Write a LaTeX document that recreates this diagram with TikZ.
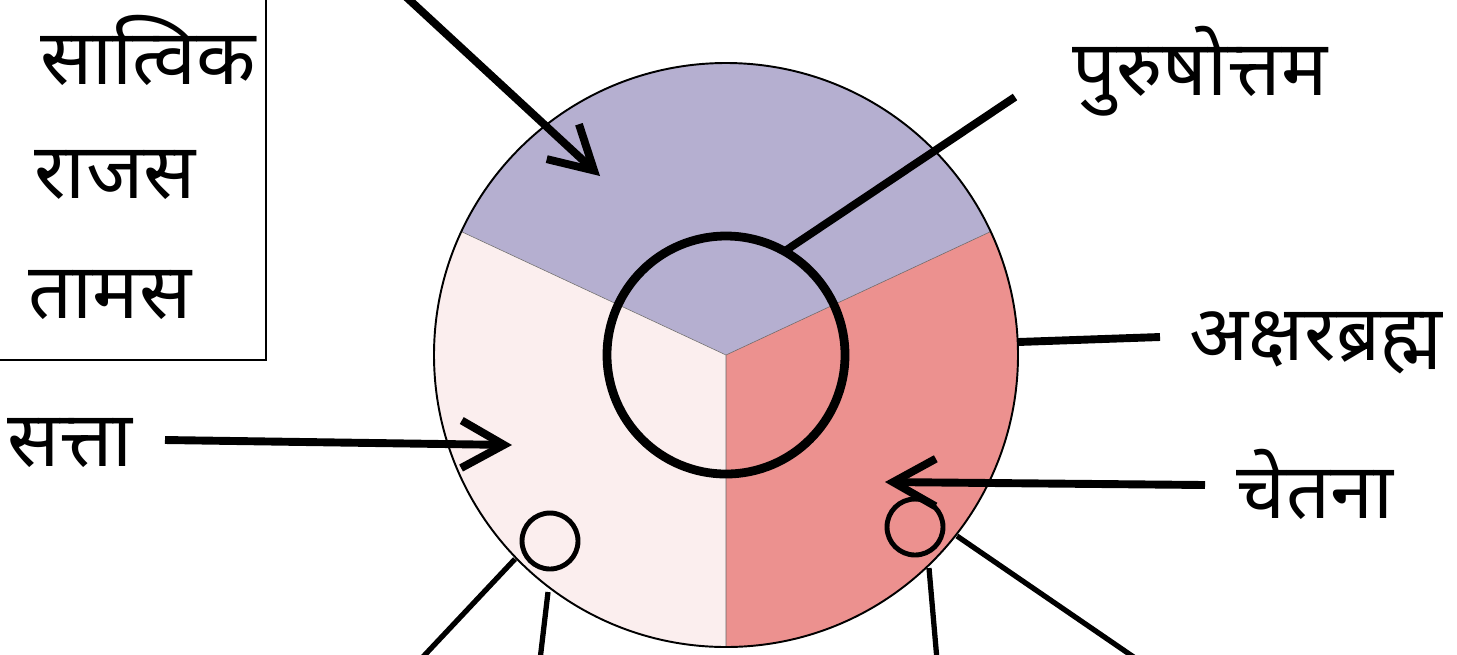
\documentclass[tikz,border=0pt]{standalone}
\usepackage{fontspec}
\newfontfamily\deva[Script=Devanagari]{Noto Sans}
\usetikzlibrary{arrows.meta}
\definecolor{guna1}{HTML}{B5AFD0}
\definecolor{guna2}{HTML}{FBEEEE}
\definecolor{guna3}{HTML}{EC918F}
\tikzset{
  lbl/.style={font=\deva\fontsize{44}{44}\selectfont,inner sep=0pt},
  ptr/.style={line width=4.5pt,-{Straight Barb[length=0.85cm,width=0.95cm,line width=4.5pt]}},
  lead/.style={line width=4.5pt},
  spoke/.style={line width=3pt}
}
\begin{document}
\begin{tikzpicture}[x=0.02cm,y=-0.02cm,line join=miter]
  \useasboundingbox (0,0) rectangle (1457,654);
  \clip (0,0) rectangle (1457,654);
  \coordinate (O) at (726,355);
  % the three sectors
  \fill[guna1] (O) -- ++(-25:292) arc[start angle=-25,end angle=-155,radius=292] -- cycle;
  \fill[guna2] (O) -- ++(-155:292) arc[start angle=-155,end angle=-270,radius=292] -- cycle;
  \fill[guna3] (O) -- ++(90:292) arc[start angle=90,end angle=-25,radius=292] -- cycle;
  \draw[line width=0.3pt,black!60] (O) -- ++(-25:292) (O) -- ++(-155:292) (O) -- ++(90:292);
  \draw[line width=1.1pt] (O) circle[radius=292];
  \draw[line width=5pt] (O) circle[radius=119];
  \draw[line width=2.8pt] (550,541) circle[radius=28];
  \draw[line width=2.8pt] (915,527) circle[radius=28];
  % legend box
  \draw[line width=0.8pt] (0,360) -- (266,360) -- (266,-5);
  \node[lbl] (sattvik) at (148,50) {सात्विक};
  \node[lbl] (rajas) at (115,175) {राजस};
  \node[lbl] (tamas) at (110,295) {तामस};
  % labels
  \node[lbl] (purush) at (1200,71) {पुरुषोत्तम};
  \node[lbl] (akshar) at (1316,343) {अक्षरब्रह्म};
  \node[lbl] (chetana) at (1315,484) {चेतना};
  \node[lbl] (satta) at (70,443) {सत्ता};
  % pointers
  \coordinate (topS) at (403,-6);
  \coordinate (topE) at (600,176);
  \coordinate (purS) at (1015,97);
  \coordinate (purE) at (785,251);
  \coordinate (akS) at (1160,337);
  \coordinate (akE) at (1018,342);
  \coordinate (chS) at (1205,485);
  \coordinate (chE) at (885,482);
  \coordinate (saS) at (165,440);
  \coordinate (saE) at (512,445);
  \draw[ptr] (topS) -- (topE);
  \draw[lead] (purS) -- (purE);
  \draw[lead] (akS) -- (akE);
  \draw[ptr] (chS) -- (chE);
  \draw[ptr] (saS) -- (saE);
  % lines below
  \coordinate (b1) at (515,559);
  \coordinate (b2) at (548,592);
  \coordinate (b3) at (929,568);
  \coordinate (b4) at (957,536);
  \draw[spoke] (b1) -- (420,660);
  \draw[spoke] (b2) -- (540,660);
  \draw[spoke] (b3) -- (937,660);
  \draw[spoke] (b4) -- (1138,660);
\end{tikzpicture}
\end{document}
